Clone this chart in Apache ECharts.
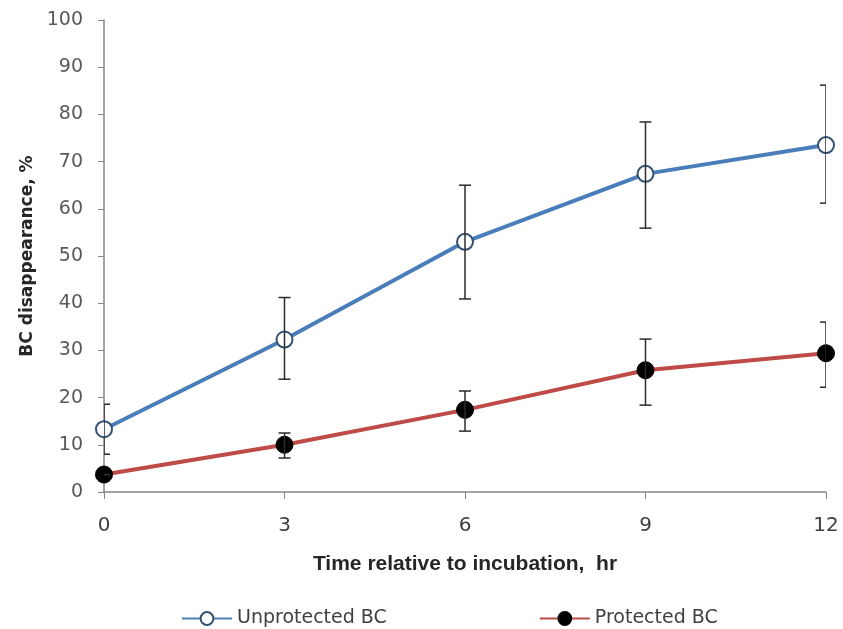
<!DOCTYPE html>
<html>
<head>
<meta charset="utf-8">
<script src="https://cdn.jsdelivr.net/npm/echarts@6/dist/echarts.min.js"></script>
<style>
  html, body { margin: 0; padding: 0; background: #fff; }
  #chart { width: 843px; height: 629px; }
</style>
</head>
<body>
<div id="chart"></div>
<script>
var hours = [0, 3, 6, 9, 12];

var unprotected = [13.3, 32.3, 53.0, 67.4, 73.5];
var unprotectedLow = [8.0, 23.9, 40.9, 55.9, 61.2];
var unprotectedHigh = [18.6, 41.2, 65.0, 78.4, 86.2];

var protectedBC = [3.7, 10.0, 17.4, 25.8, 29.4];
var protectedLow = [3.7, 7.2, 12.9, 18.4, 22.2];
var protectedHigh = [3.7, 12.5, 21.4, 32.4, 36.0];

function pairs(xs, ys) {
    var out = [];
    for (var i = 0; i < xs.length; i++) {
        out.push([xs[i], ys[i]]);
    }
    return out;
}

function errorData(xs, lo, hi) {
    var out = [];
    for (var i = 0; i < xs.length; i++) {
        out.push([xs[i], lo[i], hi[i]]);
    }
    return out;
}

function renderError(params, api) {
    var x = api.value(0);
    var top = api.coord([x, api.value(2)]);
    var bottom = api.coord([x, api.value(1)]);
    var w = 6;
    var style = { stroke: '#2b2b2b', lineWidth: 1.5 };
    return {
        type: 'group',
        children: [
            { type: 'line', shape: { x1: top[0], y1: top[1], x2: bottom[0], y2: bottom[1] }, style: style },
            { type: 'line', shape: { x1: top[0] - w, y1: top[1], x2: top[0] + w, y2: top[1] }, style: style },
            { type: 'line', shape: { x1: bottom[0] - w, y1: bottom[1], x2: bottom[0] + w, y2: bottom[1] }, style: style }
        ]
    };
}

var myChart = echarts.init(document.getElementById('chart'));

var option = {
    backgroundColor: '#fff',
    animation: false,
    grid: {
        left: 104,
        right: 17,
        top: 20,
        bottom: 137
    },
    legend: {
        left: 176,
        top: 604,
        itemGap: 152,
        itemWidth: 50,
        itemHeight: 16,
        textStyle: {
            fontFamily: 'DejaVu Sans',
            fontSize: 19,
            color: '#404040'
        },
        data: ['Unprotected BC', 'Protected BC']
    },
    xAxis: {
        type: 'value',
        min: 0,
        max: 12,
        interval: 3,
        name: 'Time relative to incubation,  hr',
        nameLocation: 'middle',
        nameGap: 62,
        nameTextStyle: {
            fontFamily: 'Liberation Sans',
            fontWeight: 'bold',
            fontSize: 21,
            color: '#262626'
        },
        axisLine: { lineStyle: { color: '#868686', width: 1.5 } },
        axisTick: { show: true, length: 7, lineStyle: { color: '#868686' } },
        axisLabel: {
            margin: 24,
            fontFamily: 'DejaVu Sans',
            fontSize: 20,
            color: '#404040'
        },
        splitLine: { show: false }
    },
    yAxis: {
        type: 'value',
        min: 0,
        max: 100,
        interval: 10,
        name: 'BC disappearance, %',
        nameLocation: 'middle',
        nameGap: 66,
        nameTextStyle: {
            fontFamily: 'DejaVu Sans',
            fontWeight: 'bold',
            fontSize: 17,
            color: '#262626'
        },
        axisLine: { show: true, lineStyle: { color: '#868686', width: 1.5 } },
        axisTick: { show: true, length: 6, lineStyle: { color: '#868686' } },
        axisLabel: {
            margin: 21,
            fontFamily: 'DejaVu Sans',
            fontSize: 19,
            color: '#595959'
        },
        splitLine: { show: false }
    },
    series: [
        {
            name: 'Unprotected BC',
            type: 'line',
            data: pairs(hours, unprotected),
            symbol: 'circle',
            symbolSize: 16,
            lineStyle: { color: '#4a7ebb', width: 4 },
            itemStyle: { color: '#ffffff', borderColor: '#34506f', borderWidth: 2 },
            z: 3
        },
        {
            name: 'Protected BC',
            type: 'line',
            data: pairs(hours, protectedBC),
            symbol: 'circle',
            symbolSize: 17,
            lineStyle: { color: '#be4b48', width: 4 },
            itemStyle: { color: '#000000', borderColor: '#000000', borderWidth: 1 },
            z: 3
        },
        {
            type: 'custom',
            renderItem: renderError,
            data: errorData(hours, unprotectedLow, unprotectedHigh),
            clip: true,
            z: 5,
            silent: true
        },
        {
            type: 'custom',
            renderItem: renderError,
            data: errorData(hours, protectedLow, protectedHigh),
            clip: true,
            z: 5,
            silent: true
        }
    ]
};

myChart.setOption(option);
</script>
</body>
</html>
